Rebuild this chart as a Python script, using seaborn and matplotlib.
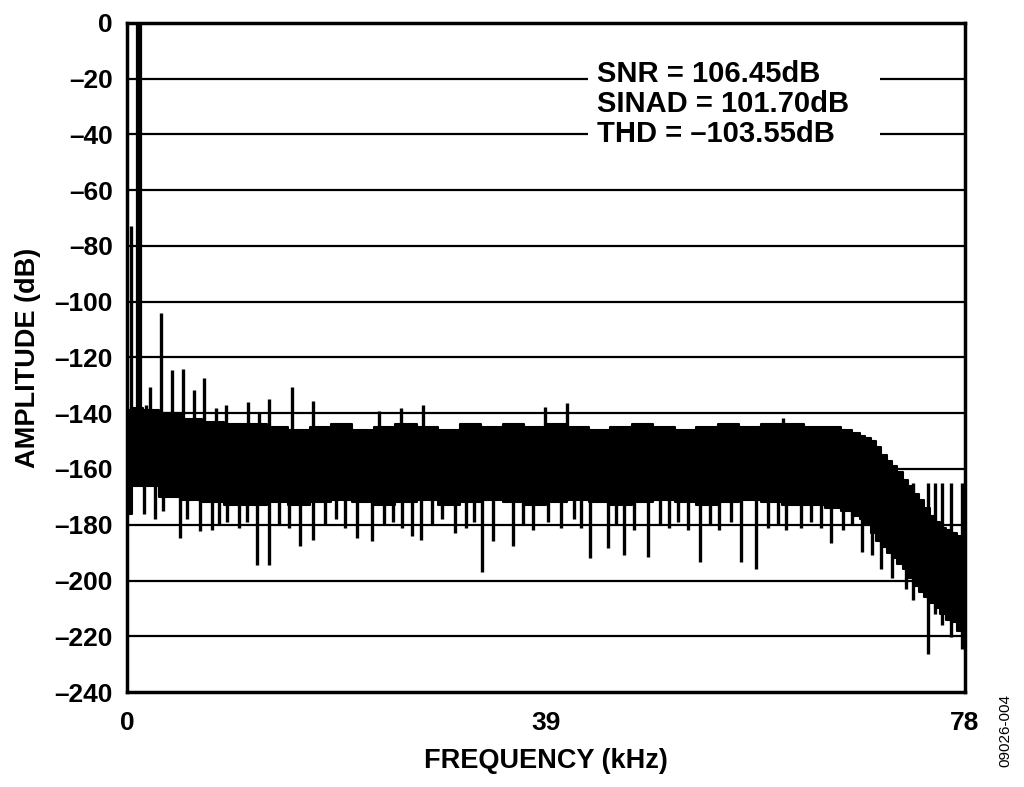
import matplotlib
matplotlib.use("Agg")
import matplotlib.pyplot as plt
import seaborn as sns
import numpy as np
import pandas as pd

# noise floor envelope (kHz, dB)
env_khz = [0, 1, 2, 4, 6, 8, 10, 12, 14, 16, 18, 20, 22, 24, 26, 28, 30, 32, 34, 36,
           38, 40, 42, 44, 46, 48, 50, 52, 54, 56, 58, 60, 62, 64, 66, 67, 68, 68.5, 69,
           69.5, 70, 70.5, 71, 71.5, 72, 72.5, 73, 73.5, 74, 74.5, 75, 75.5, 76, 76.5, 77,
           77.5, 78]
env_top = [-139, -138, -139, -140, -142, -143, -144, -144, -145, -146, -145, -144, -146,
           -145, -144, -145, -146, -144, -145, -144, -145, -144, -145, -146, -145, -144,
           -145, -146, -145, -144, -145, -144, -144, -145, -145, -146, -147, -148, -149,
           -150, -152, -155, -157, -159, -161, -164, -166, -169, -171, -174, -177, -179,
           -181, -182, -183, -184, -185]
env_bottom = [-176, -166, -166, -170, -171, -172, -173, -173, -172, -173, -172, -171, -172,
              -173, -172, -171, -173, -172, -171, -172, -173, -172, -171, -172, -173, -172,
              -171, -172, -173, -172, -171, -172, -173, -173, -174, -175, -177, -178, -180,
              -183, -186, -188, -190, -192, -194, -196, -199, -202, -204, -206, -208, -210,
              -212, -214, -215, -218, -220]

# spurs above the noise (fundamental, harmonics, odd tones)
spur_khz = [0.37, 1.8, 2.14, 3.14, 4.16, 5.18, 6.24, 7.17, 8.28, 9.22, 11.23, 12.31, 13.25,
            15.33, 17.34, 23.48, 25.5, 27.52, 38.9, 40.93, 61.09]
spur_db = [-73, -137, -130.5, -104, -124.4, -124, -131.8, -127.3, -138, -137, -136, -139.8,
           -135, -130.5, -135.7, -139.3, -138, -137, -137.6, -136.2, -141.6]
fund_khz = 1.12
fund_db = 0

# dips below the noise
dip_khz = [1.6, 2.6, 3.4, 4.9, 5.6, 6.8, 7.9, 8.6, 9.3, 10.4, 11.2, 12.1, 13.25, 14.2, 15.1,
           16.1, 17.3, 18.4, 19.5, 20.3, 21.4, 22.8, 23.9, 24.8, 25.6, 26.5, 27.4, 28.4, 29.3,
           30.5, 31.6, 32.3, 33.1, 34.1, 35.9, 36.9, 37.8, 39.2, 40.4, 41.6, 42.3, 43.1, 44.8,
           45.5, 46.3, 47.2, 48.5, 49.6, 50.5, 51.3, 52.2, 53.4, 54.3, 55.1, 56.2, 57.2, 58.6,
           59.7, 60.6, 61.4, 62.8, 63.7, 64.6, 65.6, 66.7, 67.5, 68.4, 69.4, 70.2, 71.2, 72.5,
           73.2, 74.6, 75.2, 75.9, 76.7, 77.8]
dip_db = [-176, -178, -175, -184.6, -178, -182.4, -182, -180, -179, -181, -179, -194.3, -194.3,
          -180, -181, -187.8, -185.3, -180, -178, -181, -184.6, -186, -180, -179, -181, -184,
          -185.3, -180, -178, -182.8, -181, -179, -197.1, -186, -187.8, -180, -182, -179, -181,
          -178, -181, -191.8, -188.2, -180, -191, -182, -191.4, -180, -181, -179, -182, -193.2,
          -180, -182, -179, -193.5, -195.7, -181, -180, -182, -181, -179, -181, -186.4, -182,
          -180, -189.6, -190.7, -196, -199, -203, -207, -226.5, -212, -216, -220.4, -224.7]

x_ticks = [0, 39, 78]
y_ticks = list(range(-240, 1, 20))
stats_lines = ["SNR = 106.45dB", "SINAD = 101.70dB", "THD = \u2013103.55dB"]
stats_base = [-21.0, -31.8, -42.6]

sns.set_style("white")
plt.rcParams["font.family"] = ["Liberation Sans", "DejaVu Sans"]
plt.rcParams["font.weight"] = "bold"
plt.rcParams["text.color"] = "black"
plt.rcParams["axes.labelcolor"] = "black"
plt.rcParams["xtick.color"] = "black"
plt.rcParams["ytick.color"] = "black"

fig = plt.figure(figsize=(10.24, 7.87), dpi=100)
ax = fig.add_axes([0.124, 0.1207, 0.818, 0.8501])

for y in y_ticks[1:-1]:
    ax.axhline(y, color="black", lw=1.6, zorder=1)

env = pd.DataFrame({"khz": env_khz, "top": env_top, "bottom": env_bottom})
ax.fill_between(env["khz"], env["bottom"], env["top"], step="mid", color="black", lw=0, zorder=2)
sns.lineplot(data=env, x="khz", y="top", drawstyle="steps-mid", color="black", lw=1.5, ax=ax, zorder=2)
sns.lineplot(data=env, x="khz", y="bottom", drawstyle="steps-mid", color="black", lw=1.5, ax=ax, zorder=2)

ax.vlines(spur_khz, -150, spur_db, color="black", lw=2.4, zorder=3)
ax.vlines([fund_khz], -150, [fund_db], color="black", lw=4.5, zorder=3)
ax.vlines(dip_khz, -165, dip_db, color="black", lw=2.4, zorder=3)

# white patch behind the stats so the grid lines stop around it
ax.fill_between([42.9, 70.1], -46, -14, color="white", lw=0, zorder=4)
for line, yb in zip(stats_lines, stats_base):
    ax.text(43.75, yb, line, fontsize=21, fontweight="bold", va="baseline", ha="left",
            color="black", zorder=5)

ax.set_xlim(0, 78)
ax.set_ylim(-240, 0)
ax.set_xticks(x_ticks)
ax.set_xticklabels([str(t) for t in x_ticks])
ax.set_yticks(y_ticks)
ax.set_yticklabels([str(t).replace("-", "\u2013") for t in y_ticks])
ax.tick_params(axis="x", direction="in", length=7, width=1.5, labelsize=19, pad=14,
               colors="black")
ax.tick_params(axis="y", length=0, labelsize=19, pad=10, colors="black")
for lab in ax.get_xticklabels() + ax.get_yticklabels():
    lab.set_fontweight("bold")

for sp in ax.spines.values():
    sp.set_visible(True)
    sp.set_color("black")
    sp.set_linewidth(2.5)

ax.set_xlabel("FREQUENCY (kHz)", fontsize=19.5, fontweight="bold", labelpad=9, color="black")
ax.set_ylabel("AMPLITUDE (dB)", fontsize=19.5, fontweight="bold", labelpad=10, color="black")

fig.text(0.982, 0.0724, "09026-004", rotation=90, fontsize=11, fontweight="normal",
         ha="center", va="center", color="black")

fig.savefig("out.png", dpi=100)
